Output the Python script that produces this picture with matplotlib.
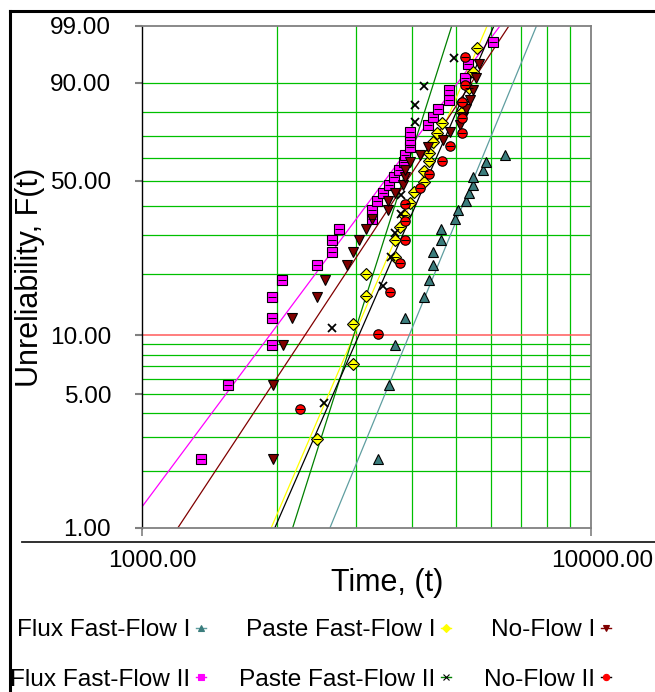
import numpy as np
import matplotlib
matplotlib.use('Agg')
import matplotlib.pyplot as plt
from matplotlib.lines import Line2D
from matplotlib.ticker import NullLocator, FixedLocator
from matplotlib.transforms import ScaledTranslation

plt.rcParams['font.family'] = ['Liberation Sans', 'DejaVu Sans']

# ---------------- data (time, unreliability %) ----------------
flux_i_t = [3350, 3550, 3652, 3854, 4249, 4355, 4444, 4444, 4645, 4645, 4975,
            5060, 5272, 5354, 5458, 5465, 5762, 5852, 6458]
flux_i_F = [2.3, 5.6, 8.9, 12.2, 15.5, 18.8, 22.0, 25.3, 28.6, 31.9, 35.2,
            38.5, 41.8, 45.1, 48.4, 51.6, 54.9, 58.2, 61.5]

flux_ii_t = [1349, 1550, 1949, 1949, 1949, 2049, 2449, 2652, 2652, 2749, 3248,
             3248, 3346, 3448, 3550, 3648, 3737, 3835, 3854, 3955, 3955, 3955,
             4344, 4457, 4559, 4838, 4838, 5246, 5319, 6046]
flux_ii_F = [2.3, 5.6, 8.9, 12.2, 15.5, 18.8, 22.0, 25.3, 28.6, 31.9, 35.2, 38.5,
             41.8, 45.1, 48.4, 51.6, 54.9, 58.2, 61.5, 64.8, 68.1, 71.4, 74.7,
             78.0, 81.3, 84.5, 87.8, 91.1, 94.4, 97.7]

paste_i_t = [2449, 2951, 2951, 3155, 3155, 3662, 3656, 3756, 3840, 3955, 4036,
             4243, 4243, 4359, 4359, 4457, 4550, 4654, 5165, 5165, 5354, 5465, 5570]
paste_i_F = [2.95, 7.16, 11.4, 15.7, 20.0, 24.1, 28.6, 32.8, 36.8, 41.2, 45.4,
             49.6, 54.3, 58.5, 62.4, 67.1, 71.3, 75.6, 80.1, 83.8, 88.3, 92.8, 97.0]

paste_ii_t = [2546, 2653, 3448, 3595, 3656, 3766, 3776, 4063, 4063, 4256, 4957]
paste_ii_F = [4.5, 10.9, 17.6, 24.0, 30.7, 37.1, 44.2, 75.9, 82.5, 89.0, 95.5]

noflow_i_t = [1953, 1953, 2056, 2154, 2451, 2555, 2856, 2951, 3048, 3152, 3253,
              3537, 3537, 3662, 3815, 3854, 3854, 3955, 4163, 4344, 4677, 4857,
              5112, 5192, 5272, 5383, 5458, 5550, 5645]
noflow_i_F = [2.3, 5.6, 8.9, 12.2, 15.5, 18.8, 22.0, 25.3, 28.6, 31.9, 35.2, 38.5,
              41.8, 45.1, 48.4, 51.6, 54.9, 58.2, 61.5, 64.8, 68.1, 71.4, 74.7,
              78.0, 81.3, 84.5, 87.8, 91.1, 94.4]

noflow_ii_t = [2251, 3350, 3559, 3751, 3854, 3854, 3854, 4163, 4359, 4649, 4857,
               5165, 5165, 5165, 5246, 5246]
noflow_ii_F = [4.2, 10.2, 16.3, 22.4, 28.5, 34.5, 40.9, 46.9, 53.0, 58.9, 65.4,
               71.3, 77.4, 83.8, 89.3, 95.7]

# Weibull fit parameters (beta, eta) of the drawn lines
labels = ['Flux Fast-Flow I', 'Flux Fast-Flow II', 'Paste Fast-Flow I',
          'Paste Fast-Flow II', 'No-Flow I', 'No-Flow II']
betas = [5.77, 3.19, 5.52, 7.49, 3.60, 5.44]
etas = [5815, 3893, 4458, 3998, 4304, 4598]

y_ticks = [1, 5, 10, 50, 90, 99]
y_ticklabels = ['1.00', '5.00', '10.00', '50.00', '90.00', '99.00']
x_ticks = [1000, 10000]
x_ticklabels = ['1000.00', '10000.00']
h_grid = [2, 3, 4, 5, 6, 7, 8, 9, 20, 30, 40, 50, 60, 70, 80, 90]
v_grid = [2000, 3000, 4000, 5000, 6000, 7000, 8000, 9000]

# ---------------- scales ----------------
def fwd(F):
    F = np.clip(np.asarray(F, dtype=float), 1e-9, 100 - 1e-9)
    return np.log(-np.log(1 - F / 100.0))


def inv(u):
    return 100.0 * (1 - np.exp(-np.exp(np.asarray(u, dtype=float))))


W, H = 655, 692
fig = plt.figure(figsize=(W / 100, H / 100), dpi=100)
ax = fig.add_axes([142.4 / W, 1 - 528 / H, 448.2 / W, 502.3 / H])
ax.set_xscale('log')
ax.set_yscale('function', functions=(fwd, inv))
ax.set_xlim(1000, 10000)
ax.set_ylim(1, 99)

# grid
for g in h_grid:
    ax.axhline(g, color='#00c000', lw=0.9, zorder=0.5)
ax.axhline(10, color='#ff5a5a', lw=1.1, zorder=0.6)
for g in v_grid:
    ax.axvline(g, color='#00c000', lw=0.9, zorder=0.5)

# series
styles = [
    dict(marker='^', mfc='#3b7d7d', ms=7.0, lc='#5f9ea0', bar=False),
    dict(marker='s', mfc='#ff00ff', ms=7.0, lc='#ff00ff', bar=True),
    dict(marker='D', mfc='#ffff00', ms=6.0, lc='#ffff00', bar=True),
    dict(marker='x', mfc='black', ms=6.0, lc='#008000', bar=False),
    dict(marker='v', mfc='#800000', ms=7.0, lc='#800000', bar=False),
    dict(marker='o', mfc='#ff0000', ms=6.8, lc='#000000', bar=True),
]
data = [(flux_i_t, flux_i_F), (flux_ii_t, flux_ii_F), (paste_i_t, paste_i_F),
        (paste_ii_t, paste_ii_F), (noflow_i_t, noflow_i_F),
        (noflow_ii_t, noflow_ii_F)]

t_line = np.geomspace(1000, 10000, 500)
handles = []
for (t, F), st, b, e, lab in zip(data, styles, betas, etas, labels):
    Fl = 100 * (1 - np.exp(-(t_line / e) ** b))
    ax.plot(t_line, Fl, color=st['lc'], lw=0.9, zorder=2)
    if st['marker'] == 'x':
        ax.plot(t, F, ls='none', marker='x', color='black', ms=st['ms'],
                mew=1.3, zorder=3)
    else:
        ax.plot(t, F, ls='none', marker=st['marker'], mfc=st['mfc'],
                mec='black', mew=0.8, ms=st['ms'], zorder=3)
        if st['bar']:
            ax.plot(t, F, ls='none', marker='_', color='black',
                    ms=st['ms'] * 0.9, mew=0.7, zorder=3.5)
    h = Line2D([], [], color=st['lc'], lw=1.0, marker=st['marker'],
               mfc=st['mfc'], mec=st['mfc'] if st['marker'] != 'x' else 'black',
               ms=4.5, mew=0.8)
    handles.append(h)

# axes styling
for side in ['top', 'right', 'bottom']:
    ax.spines[side].set_color('#808080')
    ax.spines[side].set_linewidth(1.3)
ax.spines['left'].set_color('black')
ax.spines['left'].set_linewidth(1.0)

ax.xaxis.set_major_locator(FixedLocator(x_ticks))
ax.xaxis.set_minor_locator(NullLocator())
ax.set_xticklabels(x_ticklabels)
ax.yaxis.set_major_locator(FixedLocator(y_ticks))
ax.yaxis.set_minor_locator(NullLocator())
ax.set_yticklabels(y_ticklabels)

ax.tick_params(axis='x', direction='out', length=6, width=1.2, pad=10,
               labelsize=17.6, colors='#808080', labelcolor='black')
ax.tick_params(axis='y', direction='out', length=5, width=1.5, pad=17.5,
               labelsize=17.6, colors='#808080', labelcolor='black')
ytick_cols = ['#808080', '#80d080', '#ff6060', '#00c000', '#80d080', '#808080']
for tk, c in zip(ax.yaxis.get_major_ticks(), ytick_cols):
    tk.tick1line.set_color(c)
ax.xaxis.get_major_ticks()[0].tick1line.set_color('black')

shifts = [10, 12]
for lbl, s in zip(ax.get_xticklabels(), shifts):
    lbl.set_transform(lbl.get_transform() + ScaledTranslation(s / 100, 0, fig.dpi_scale_trans))

fig.text(387 / W, 1 - 583 / H, 'Time, (t)', ha='center', va='center', fontsize=22)
fig.text(30 / W, 1 - 277 / H, 'Unreliability, F(t)', ha='center', va='center',
         rotation=90, fontsize=22)

# frame decorations
fig.add_artist(Line2D([9.5 / W, 9.5 / W], [1 - 11 / H, 0], transform=fig.transFigure,
                      color='black', lw=2.2))
fig.add_artist(Line2D([9.5 / W, 1], [1 - 11 / H, 1 - 11 / H], transform=fig.transFigure,
                      color='black', lw=2.2))
fig.add_artist(Line2D([22 / W, 1], [1 - 542 / H, 1 - 542 / H], transform=fig.transFigure,
                      color='#202020', lw=1.3))

leg = fig.legend(handles, labels,
                 ncol=3, markerfirst=False, frameon=False, fontsize=17.6,
                 loc='upper left', bbox_to_anchor=(10 / W, 1 - 619 / H),
                 bbox_transform=fig.transFigure, borderpad=0, borderaxespad=0,
                 handlelength=0.4, handletextpad=0.25, columnspacing=1.35,
                 labelspacing=1.12)

fig.savefig('out.png', dpi=100)
